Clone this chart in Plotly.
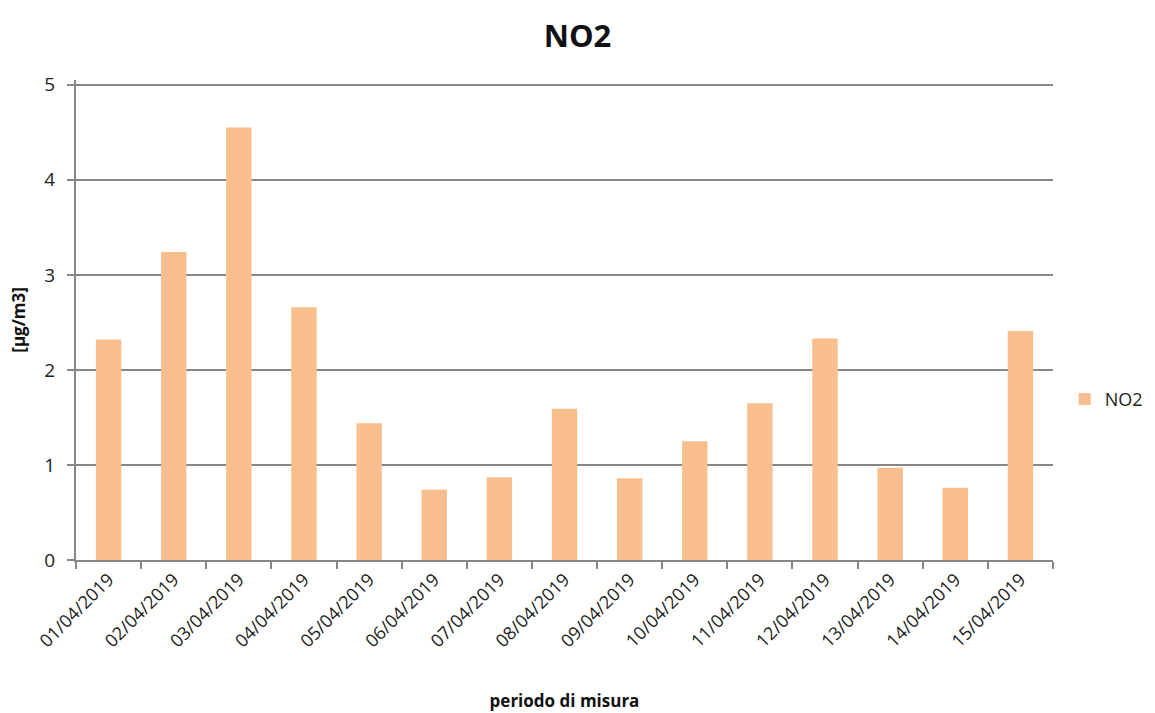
import plotly.graph_objects as go

# Daily NO2 concentrations over the measurement period
dates = ["01/04/2019", "02/04/2019", "03/04/2019", "04/04/2019", "05/04/2019",
         "06/04/2019", "07/04/2019", "08/04/2019", "09/04/2019", "10/04/2019",
         "11/04/2019", "12/04/2019", "13/04/2019", "14/04/2019", "15/04/2019"]
no2 = [2.32, 3.24, 4.55, 2.66, 1.44, 0.74, 0.87, 1.59, 0.86, 1.25,
       1.65, 2.33, 0.97, 0.76, 2.41]
y_ticks = [0, 1, 2, 3, 4, 5]

GRID = "#878787"
FONT = "Open Sans, Liberation Sans, sans-serif"

fig = go.Figure()
fig.add_trace(go.Bar(
    x=dates, y=no2, name="NO2",
    marker=dict(color="#F9BE8D", line=dict(width=0)),
    showlegend=True,
))

fig.update_layout(
    width=1155, height=713,
    margin=dict(l=76, r=102, t=80, b=153, autoexpand=False),
    paper_bgcolor="white", plot_bgcolor="white",
    font=dict(family=FONT, color="#222222"),
    bargap=0.61,
    title=dict(text="<b>NO2</b>", x=0.5, xanchor="center", y=0.95, yanchor="middle",
               font=dict(size=31, color="#111111", family=FONT)),
    xaxis=dict(
        type="category",
        tickangle=-45,
        tickfont=dict(size=18, color="#222222"),
        ticks="outside", tickson="boundaries", ticklen=7, tickcolor=GRID, tickwidth=2,
        showline=True, linecolor=GRID, linewidth=2,
        showgrid=False,
        automargin=False,
        title=dict(text="<b>periodo di misura</b>", font=dict(size=17, color="#111111"), standoff=44),
    ),
    yaxis=dict(
        range=[0, 5.05],
        tickvals=y_ticks,
        tickfont=dict(size=19, color="#222222"),
        ticks="outside", ticklen=7, tickcolor=GRID, tickwidth=2,
        ticklabelstandoff=8,
        showline=True, linecolor=GRID, linewidth=2,
        showgrid=True, gridcolor=GRID, gridwidth=2,
        zeroline=False,
        automargin=False,
        title=dict(text="<b>[µg/m3]</b>", font=dict(size=17, color="#111111"), standoff=14),
    ),
    legend=dict(x=1.012, y=0.335, xanchor="left", yanchor="middle",
                font=dict(size=18, color="#222222"), bgcolor="rgba(0,0,0,0)"),
)

fig.write_html("out.html")
